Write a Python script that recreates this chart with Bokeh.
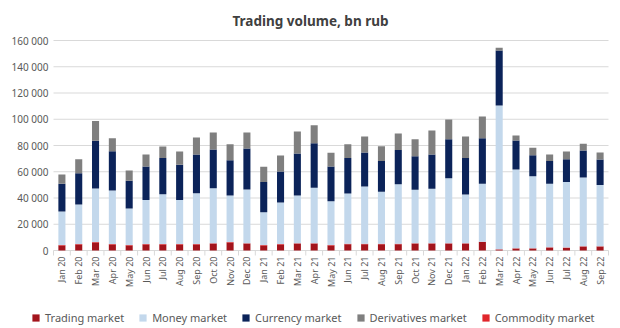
import math
from bokeh.plotting import figure
from bokeh.models import ColumnDataSource, Legend, LegendItem, Range1d, Label
from bokeh.core.properties import value
from bokeh.embed import file_html
from bokeh.resources import INLINE

months = ["Jan 20", "Feb 20", "Mar 20", "Apr 20", "May 20", "Jun 20", "Jul 20", "Aug 20",
          "Sep 20", "Oct 20", "Nov 20", "Dec 20", "Jan 21", "Feb 21", "Mar 21", "Apr 21",
          "May 21", "Jun 21", "Jul 21", "Aug 21", "Sep 21", "Oct 21", "Nov 21", "Dec 21",
          "Jan 22", "Feb 22", "Mar 22", "Apr 22", "May 22", "Jun 22", "Jul 22", "Aug 22", "Sep 22"]

trading = [3800, 4600, 6100, 4600, 3800, 4600, 4600, 4600, 4600, 5300, 6100, 5300,
           3800, 4600, 5300, 5300, 3800, 4800, 4800, 4800, 4800, 5300, 5300, 5300,
           5300, 6400, 700, 1500, 1500, 2200, 2000, 3000, 3000]
commodity = [300] * 33
money = [25600, 30100, 40800, 40800, 27900, 33500, 38000, 33500, 38800, 41900, 35500, 40900,
         25100, 31700, 36300, 42200, 33500, 38300, 43700, 39600, 45400, 40600, 41400, 49500,
         37100, 44100, 109500, 59900, 54800, 48300, 49800, 52300, 46700]
currency = [21100, 23900, 36400, 30000, 21100, 25600, 27500, 26900, 29500, 29500, 26900, 31200,
            22900, 23600, 32000, 34000, 26400, 27000, 25900, 23400, 26000, 25700, 26200, 29700,
            27700, 34800, 41900, 22100, 16000, 17300, 17500, 20600, 19300]
derivatives = [7100, 10700, 15000, 9900, 7900, 9200, 8800, 10100, 12900, 12900, 12200, 12200,
               11700, 12200, 16800, 13700, 10400, 10600, 12200, 11400, 12700, 12900, 18200, 15000,
               16500, 16500, 2000, 3800, 5600, 5100, 5800, 5100, 5400]

y_ticks = [0, 20000, 40000, 60000, 80000, 100000, 120000, 140000, 160000]
y_tick_labels = ["0", "20 000", "40 000", "60 000", "80 000", "100 000", "120 000", "140 000", "160 000"]

title_text = "Trading volume, bn rub"

colors = {
    "trading": "#A3141C",
    "commodity": "#E0262B",
    "money": "#C3D8EC",
    "currency": "#0B2359",
    "derivatives": "#7F7F7F",
}

FONT = "Noto Sans"
W, H = 620, 328
# plot area in pixels (layout)
left_px, right_px, top_px, bottom_px = 53, 608, 40, 250
n = len(months)
y_max = 160000
cat_px = (right_px - left_px) / n
ux = 1.0 / cat_px                    # data units per px (x)
uy = y_max / (bottom_px - top_px)    # data units per px (y)

x_start = -0.5 - left_px * ux
x_end = -0.5 + (W - left_px) * ux
y_start = -(H - bottom_px) * uy
y_end = y_max + top_px * uy

p = figure(width=W, height=H, output_backend="svg", toolbar_location=None,
           x_range=Range1d(x_start, x_end), y_range=Range1d(y_start, y_end),
           min_border=0, min_border_left=0, min_border_right=0,
           min_border_top=0, min_border_bottom=0)
p.axis.visible = False
p.grid.visible = False
p.outline_line_color = None
p.background_fill_color = "white"
p.border_fill_color = "white"

xs = list(range(n))
source = ColumnDataSource(dict(x=xs, month=months, trading=trading, commodity=commodity,
                               money=money, currency=currency, derivatives=derivatives))

# grid lines (including the baseline / axis line)
p.segment(x0=[-0.5] * len(y_ticks), x1=[n - 0.5] * len(y_ticks), y0=y_ticks, y1=y_ticks,
          line_color="#D9D9D9", line_width=1)

# bars
stack_keys = ["trading", "commodity", "money", "currency", "derivatives"]
renderers = p.vbar_stack(stack_keys, x="x", width=0.42, source=source,
                         color=[colors[k] for k in stack_keys], line_width=0)
rmap = dict(zip(stack_keys, renderers))

# category boundary ticks
bounds = [i - 0.5 for i in range(n + 1)]
p.ray(x=bounds, y=[0] * len(bounds), length=5, length_units="screen",
      angle=-math.pi / 2, line_color="#D9D9D9", line_width=1)

# x labels
p.text(x=xs, y=[0] * n, text=months, angle=math.pi / 2, y_offset=6,
       text_align="right", text_baseline="middle",
       text_font=value(FONT), text_font_size="9px", text_color="#595959")

# y labels
p.text(x=[-0.5] * len(y_ticks), y=y_ticks, text=y_tick_labels, x_offset=-5,
       text_align="right", text_baseline="middle",
       text_font=value(FONT), text_font_size="10px", text_color="#595959")

# title
p.add_layout(Label(x=310, y=H - 20, x_units="screen", y_units="screen", text=title_text,
                   text_align="center", text_baseline="middle", text_font=FONT,
                   text_font_size="13.5px", text_font_style="bold", text_color="#404040"))

legend = Legend(items=[
    LegendItem(label="Trading market", renderers=[rmap["trading"]]),
    LegendItem(label="Money market", renderers=[rmap["money"]]),
    LegendItem(label="Currency market", renderers=[rmap["currency"]]),
    LegendItem(label="Derivatives market", renderers=[rmap["derivatives"]]),
    LegendItem(label="Commodity market", renderers=[rmap["commodity"]]),
], orientation="horizontal", location=(31, 3))
legend.label_text_font = FONT
legend.label_text_font_size = "11px"
legend.label_text_color = "#595959"
legend.glyph_width = 9
legend.glyph_height = 9
legend.label_standoff = 5
legend.spacing = 14
legend.border_line_color = None
legend.background_fill_alpha = 0
legend.padding = 4
legend.margin = 0
p.add_layout(legend, "center")

open("out.html", "w").write(file_html(p, INLINE))
